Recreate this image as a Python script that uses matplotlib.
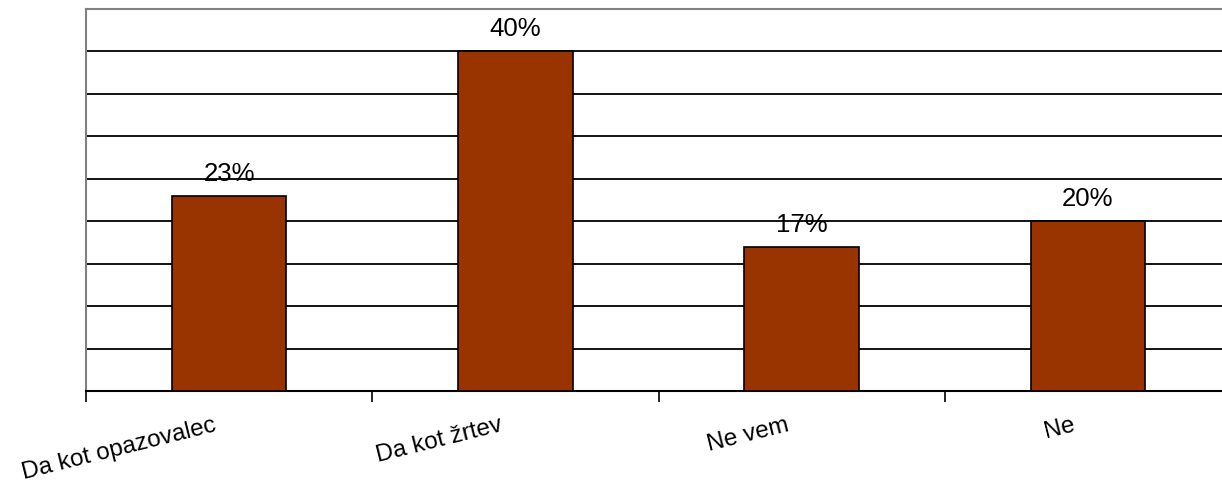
import numpy as np
import matplotlib
matplotlib.use('Agg')
import matplotlib.pyplot as plt
from matplotlib.transforms import ScaledTranslation

# Survey answers and their shares (percent)
categories = ['Da kot opazovalec', 'Da kot žrtev', 'Ne vem', 'Ne']
shares = [23, 40, 17, 20]
value_labels = ['23%', '40%', '17%', '20%']

plt.rcParams['font.family'] = ['Liberation Sans', 'DejaVu Sans']

fig = plt.figure(figsize=(12.22, 4.85), dpi=100)
ax = fig.add_axes([86/1222, 93/485, 1145/1222, 382/485])

x = np.arange(len(categories))
ax.bar(x, shares, width=0.4, color='#993300', edgecolor='black',
       linewidth=1.2, zorder=3)

ax.set_xlim(-0.5, len(categories) - 0.5)
ax.set_ylim(0, 45)

# horizontal grid every 5 %
ax.set_yticks(np.arange(5, 45, 5))
ax.yaxis.grid(True, color='black', linewidth=1.3, zorder=0)
ax.tick_params(axis='y', left=False, labelleft=False)

# ticks on the category boundaries, labels drawn separately
ax.set_xticks(np.arange(len(categories) + 1) - 0.5)
ax.tick_params(axis='x', direction='out', length=8, width=1.2,
               labelbottom=False)

for side in ['left', 'top']:
    ax.spines[side].set_color('#808080')
    ax.spines[side].set_linewidth(1.5)
ax.spines['bottom'].set_linewidth(1.5)
ax.spines['right'].set_visible(False)

for xi, v, lab in zip(x, shares, value_labels):
    ax.annotate(lab, (xi, v), xytext=(0, 11.5), textcoords='offset points',
                ha='center', va='baseline', fontsize=18.5)

off = ScaledTranslation(-12/100, -39/100, fig.dpi_scale_trans)
for xi, cat in zip(x, categories):
    ax.text(xi, 0, cat, transform=ax.get_xaxis_transform() + off,
            rotation=14, rotation_mode='anchor', ha='right', va='baseline',
            fontsize=17.5, clip_on=False)

plt.savefig('out.png', dpi=100)
